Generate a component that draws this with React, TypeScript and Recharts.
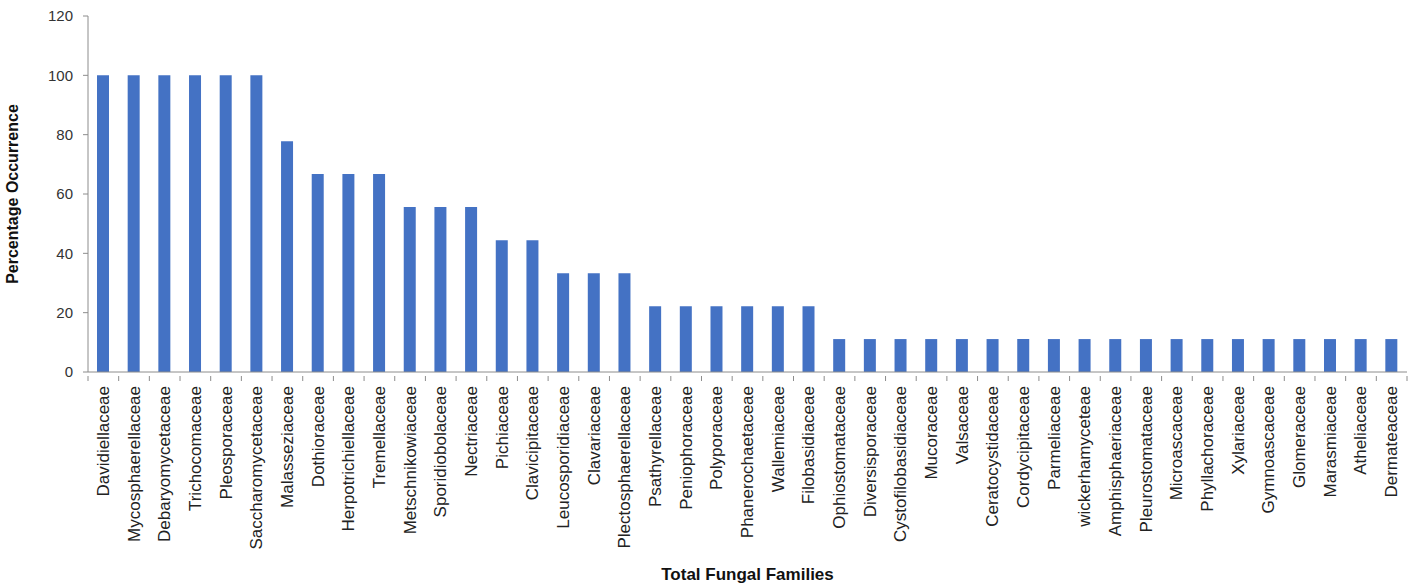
import React from "react";
import { BarChart, Bar, XAxis, YAxis, Label } from "recharts";

const families = [
  "Davidiellaceae", "Mycosphaerellaceae", "Debaryomycetaceae", "Trichocomaceae", "Pleosporaceae",
  "Saccharomycetaceae", "Malasseziaceae", "Dothioraceae", "Herpotrichiellaceae", "Tremellaceae",
  "Metschnikowiaceae", "Sporidiobolaceae", "Nectriaceae", "Pichiaceae", "Clavicipitaceae",
  "Leucosporidiaceae", "Clavariaceae", "Plectosphaerellaceae", "Psathyrellaceae", "Peniophoraceae",
  "Polyporaceae", "Phanerochaetaceae", "Wallemiaceae", "Filobasidiaceae", "Ophiostomataceae",
  "Diversisporaceae", "Cystofilobasidiaceae", "Mucoraceae", "Valsaceae", "Ceratocystidaceae",
  "Cordycipitaceae", "Parmeliaceae", "wickerhamyceteae", "Amphisphaeriaceae", "Pleurostomataceae",
  "Microascaceae", "Phyllachoraceae", "Xylariaceae", "Gymnoascaceae", "Glomeraceae",
  "Marasmiaceae", "Atheliaceae", "Dermateaceae",
];

const occurrence = [
  100, 100, 100, 100, 100, 100, 77.8, 66.7, 66.7, 66.7,
  55.6, 55.6, 55.6, 44.4, 44.4, 33.3, 33.3, 33.3, 22.2, 22.2,
  22.2, 22.2, 22.2, 22.2, 11.1, 11.1, 11.1, 11.1, 11.1, 11.1,
  11.1, 11.1, 11.1, 11.1, 11.1, 11.1, 11.1, 11.1, 11.1, 11.1,
  11.1, 11.1, 11.1,
];

const yTicks = [0, 20, 40, 60, 80, 100, 120];

const data = families.map((name, i) => ({ name, value: occurrence[i] }));

const W = 1413;
const H = 585;
const M = { top: 16, right: 6, bottom: 0, left: 0 };
const Y_W = 88;
const X_H = 213;
const FONT = "'Liberation Sans', Arial, sans-serif";
const AXIS = "#8c8c8c";

// Excel puts x ticks between categories, so draw them from the custom tick
const band = (W - M.left - M.right - Y_W) / families.length;

function FamilyTick(props: any) {
  const { x, y, payload, index } = props;
  const isLast = index === families.length - 1;
  return (
    <g>
      <line x1={x - band / 2} y1={y - 10} x2={x - band / 2} y2={y - 5} stroke={AXIS} />
      {isLast && <line x1={x + band / 2} y1={y - 10} x2={x + band / 2} y2={y - 5} stroke={AXIS} />}
      <text
        x={x}
        y={y}
        transform={`rotate(-90, ${x}, ${y})`}
        textAnchor="end"
        dominantBaseline="central"
        fontSize={17}
        fontFamily={FONT}
        fill="#222"
      >
        {payload.value}
      </text>
    </g>
  );
}

export default function App() {
  return (
    <div style={{ position: "absolute", left: 0, top: 0, width: W, height: H, background: "#fff" }}>
      <BarChart width={W} height={H} data={data} margin={M} barSize={12}>
        <XAxis
          dataKey="name"
          interval={0}
          height={X_H}
          axisLine={{ stroke: AXIS }}
          tickLine={false}
          tick={<FamilyTick />}
          tickMargin={8}
        >
          <Label
            value="Total Fungal Families"
            position="insideBottom"
            offset={5}
            style={{ fontFamily: FONT, fontSize: 17, fontWeight: 700, fill: "#111" }}
          />
        </XAxis>
        <YAxis
          width={Y_W}
          domain={[0, 120]}
          ticks={yTicks}
          axisLine={{ stroke: AXIS }}
          tickLine={{ stroke: AXIS }}
          tickSize={5}
          tickMargin={10}
          tick={{ fontSize: 15, fontFamily: FONT, fill: "#333" }}
        >
          <Label
            value="Percentage Occurrence"
            angle={-90}
            position="insideLeft"
            offset={17}
            dx={-5}
            style={{ textAnchor: "middle", fontFamily: FONT, fontSize: 16, fontWeight: 700, fill: "#111" }}
          />
        </YAxis>
        <Bar dataKey="value" fill="#4472C4" isAnimationActive={false} />
      </BarChart>
    </div>
  );
}
